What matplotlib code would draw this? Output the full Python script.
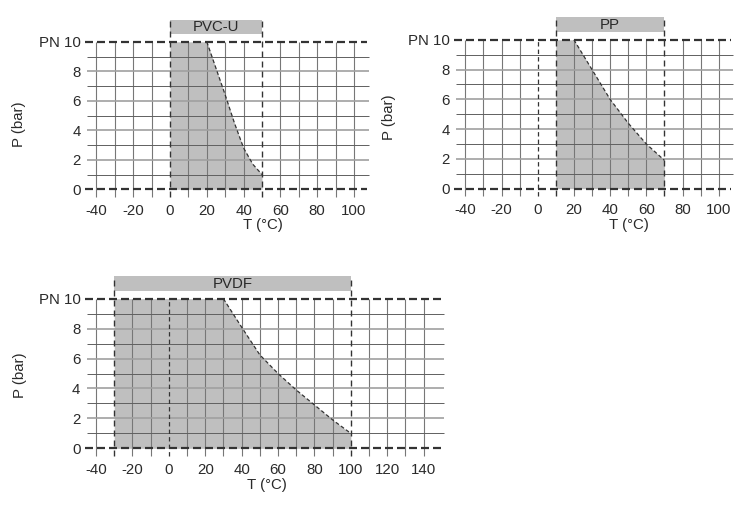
import matplotlib.pyplot as plt

plt.rcParams['font.family'] = ['Liberation Sans', 'DejaVu Sans']

# pressure / temperature curves
pvc_t = [0, 20, 25, 30, 35, 40, 45, 50]
pvc_p = [10, 10, 8.2, 6.4, 4.5, 2.8, 1.7, 1.0]

pp_t = [10, 20, 30, 40, 50, 60, 70]
pp_p = [10, 10, 8.0, 6.0, 4.4, 3.0, 1.9]

pvdf_t = [-30, 30, 40, 50, 60, 70, 80, 90, 100]
pvdf_p = [10, 10, 8.1, 6.25, 5.0, 3.9, 2.9, 1.9, 1.0]

y_ticks = [0, 2, 4, 6, 8, 10]
y_labels = ["0", "2", "4", "6", "8", "PN 10"]

W, H = 752, 508
fig = plt.figure(figsize=(W / 100, H / 100), dpi=100)

FILL = "#bfbfbf"
DARK = "#333333"
TXT = "#2a2a2a"
FS = 10.8


def make_axes(x0px, sx, y0px, sy, xlim, ylim):
    left = x0px + xlim[0] * sx
    right = x0px + xlim[1] * sx
    top = y0px - ylim[1] * sy
    bottom = y0px - ylim[0] * sy
    ax = fig.add_axes([left / W, 1 - bottom / H, (right - left) / W, (bottom - top) / H])
    ax.set_xlim(xlim)
    ax.set_ylim(ylim)
    for s in ax.spines.values():
        s.set_visible(False)
    return ax


def panel(ax, name, t, p, tmax_grid, xt_max, extra_zero, tlab_x, plab_y, hl):
    lo, hi = t[0], t[-1]
    # grid
    for g in range(-40, tmax_grid + 1, 10):
        if g in (lo, hi) or (extra_zero and g == 0):
            continue
        ax.vlines(g, -0.5, 10, color="#777777", lw=0.8, zorder=2)
    for g in range(1, 10):
        if g % 2 == 0:
            ax.hlines(g, hl[0], hl[1], color="#a0a0a0", lw=1.2, zorder=2)
        else:
            ax.hlines(g, hl[0], hl[1], color="#606060", lw=0.7, zorder=2)

    # shaded area
    ax.fill_between(t, p, 0, color=FILL, lw=0, zorder=1)

    # limit lines
    for yv in (0, 10):
        ax.hlines(yv, hl[0] - 1, hl[1] - 1, color=DARK, lw=1.6,
                  linestyles=(0, (3.6, 1.8)), zorder=3)
    for xv in (lo, hi):
        ax.vlines(xv, -0.5, 11.5, color=DARK, lw=1.0,
                  linestyles=(0, (4.3, 2.9)), zorder=3)
    if extra_zero:
        ax.vlines(0, -0.5, 10, color=DARK, lw=0.9,
                  linestyles=(0, (3.5, 2.5)), zorder=3)

    # curve
    k = p.index(10, 1) if 10 in p[1:] else 0
    ax.plot(t[k:], p[k:], color=DARK, lw=0.9, ls=(0, (3, 2)), zorder=3)

    # header bar
    ax.fill_between([lo, hi], 10.5, 11.5, color=FILL, lw=0, zorder=1)
    ax.text((lo + hi) / 2, 11.0, name, ha="center", va="center",
            fontsize=FS, color=TXT)

    ax.set_xticks(range(-40, xt_max + 1, 20))
    ax.set_xticklabels([str(v) for v in range(-40, xt_max + 1, 20)])
    ax.set_yticks(y_ticks)
    ax.set_yticklabels(y_labels)
    ax.tick_params(length=0, labelsize=FS, labelcolor=TXT, pad=2)

    ax.text(tlab_x, -2.45, "T (°C)", ha="center", va="center", fontsize=FS,
            color=TXT, clip_on=False)
    ax.text(-82, plab_y, "P (bar)", ha="center", va="center", rotation=90,
            fontsize=FS, color=TXT, clip_on=False)


ax1 = make_axes(170.0, 1.84, 189.3, 14.75, (-47, 112), (-0.8, 11.8))
panel(ax1, "PVC-U", pvc_t, pvc_p, 100, 100, False, 50.5, 4.4, (-45, 108))

ax2 = make_axes(537.7, 1.81, 188.6, 14.88, (-47, 112), (-0.8, 11.8))
panel(ax2, "PP", pp_t, pp_p, 100, 100, True, 50.4, 4.8, (-45, 108))

ax3 = make_axes(168.8, 1.82, 448.3, 14.96, (-47, 153), (-0.8, 11.8))
panel(ax3, "PVDF", pvdf_t, pvdf_p, 140, 140, True, 54, 4.9, (-45, 151))

fig.savefig("out.png", dpi=100)
